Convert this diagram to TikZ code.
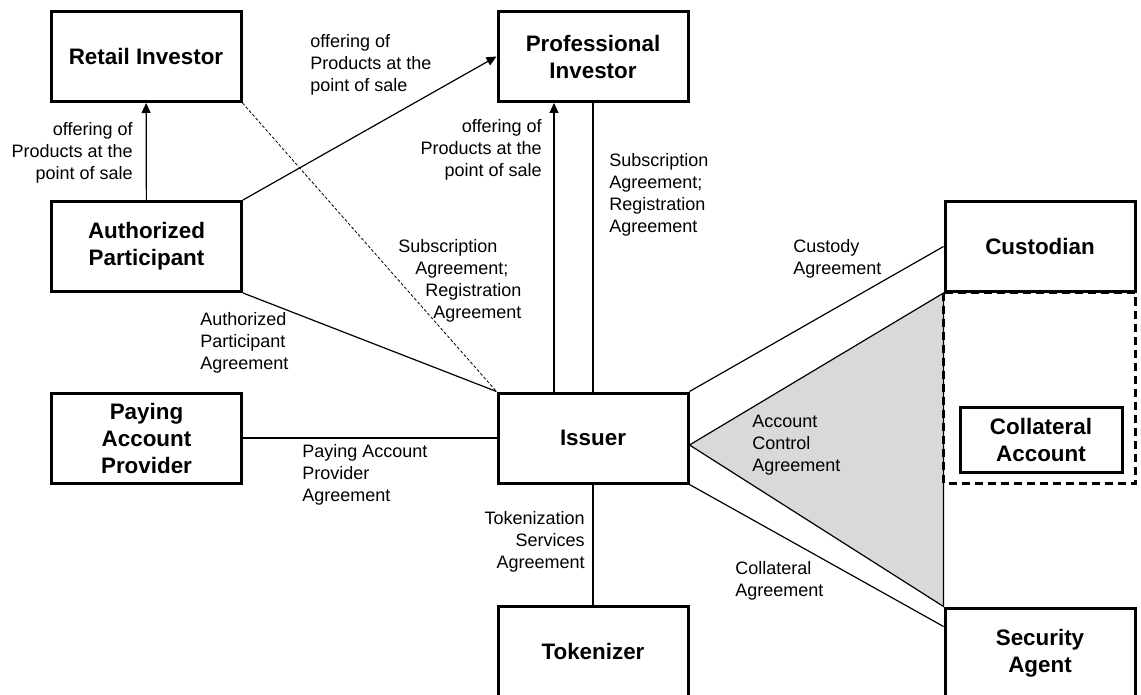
\documentclass[tikz,border=0pt]{standalone}
\usepackage{fontspec}
\setmainfont{Liberation Sans}
\usetikzlibrary{arrows.meta}

\tikzset{
  party/.style={draw, line width=1.5pt, minimum width=95pt, minimum height=45pt,
    align=center, font=\fontsize{11.2}{13.5}\selectfont\bfseries},
  deal/.style={inner sep=0pt, font=\fontsize{9}{11}\selectfont},
  link/.style={line width=0.6pt},
  offer/.style={line width=0.6pt, -{Triangle[length=5pt,width=4.5pt]}}
}

\begin{document}
\begin{tikzpicture}[x=0.5pt, y=-0.5pt]
  \useasboundingbox (0,0) rectangle (1141,695);

  \node[party] (Retail) at (146,56.5) {Retail Investor};
  \node[party] (Prof) at (593,56.5) {Professional\\Investor};
  \node[party] (Auth) at (146.5,246.5) {Authorized\\Participant};
  \node[party] (Paying) at (146.5,438) {Paying\\Account\\Provider};
  \node[party] (Issuer) at (593,438) {Issuer};
  \node[party] (Tokenizer) at (593,651) {Tokenizer};
  \node[party] (Custodian) at (1040,246.5) {Custodian};
  \node[party] (Security) at (1040,653) {Security\\Agent};

  % account control triangle
  \coordinate (Apex) at ([yshift=-3.5pt]Issuer.east);
  \draw[link, fill=black!15] (Apex) -- (Custodian.south west) -- (Security.north west) -- cycle;
  \draw[line width=1.5pt, dash pattern=on 4pt off 2.5pt] (Custodian.south west) rectangle (1135,483);
  \node[party, minimum width=81pt, minimum height=32.5pt] (Collateral) at (1041,439.5) {Collateral\\Account};

 \draw[offer] (Auth) to (Retail);
 \draw[offer] (Auth.north east) to (Prof.west);
 \draw[offer] ([xshift=-19.5pt]Issuer.north) to ([xshift=-19.5pt]Prof.south);
 \draw[link] (Issuer) to (Prof);
 \draw[line width=0.4pt, dash pattern=on 1.5pt off 1pt] (Retail.south east) to (Issuer.north west);
 \draw[link] (Auth.south east) to (Issuer.north west);
 \draw[link] (Paying) to (Issuer);
 \draw[link] (Issuer) to (Tokenizer);
 \draw[link] (Issuer.north east) to (Custodian.west);
 \draw[link] (Issuer.south east) to ([yshift=-10pt]Security.north west);

  \node[deal, anchor=east, align=right] (lRetail) at (133,153) {offering of\\Products at the\\point of sale};
  \node[deal, anchor=west, align=left] (lProfTop) at (310,65) {offering of\\Products at the\\point of sale};
  \node[deal, anchor=east, align=right] (lProfUp) at (542,150) {offering of\\Products at the\\point of sale};
  \node[deal, anchor=west, align=left] (lSubR) at (609,195) {Subscription\\Agreement;\\Registration\\Agreement};
  \node[deal, anchor=west, align=left] (lSubM) at (398,281) {Subscription\\\hspace*{8.5pt}Agreement;\\\hspace*{13.5pt}Registration\\\hspace*{17.5pt}Agreement};
  \node[deal, anchor=west, align=left] (lAuth) at (200,343) {Authorized\\Participant\\Agreement};
  \node[deal, anchor=west, align=left] (lPaying) at (302,475) {Paying Account\\Provider\\Agreement};
  \node[deal, anchor=west, align=left] (lCustody) at (793,259) {Custody\\Agreement};
  \node[deal, anchor=west, align=left] (lControl) at (752,445) {Account\\Control\\Agreement};
  \node[deal, anchor=east, align=right] (lToken) at (585,542) {Tokenization\\Services\\Agreement};
  \node[deal, anchor=west, align=left] (lCollat) at (735,581) {Collateral\\Agreement};

\end{tikzpicture}
\end{document}
